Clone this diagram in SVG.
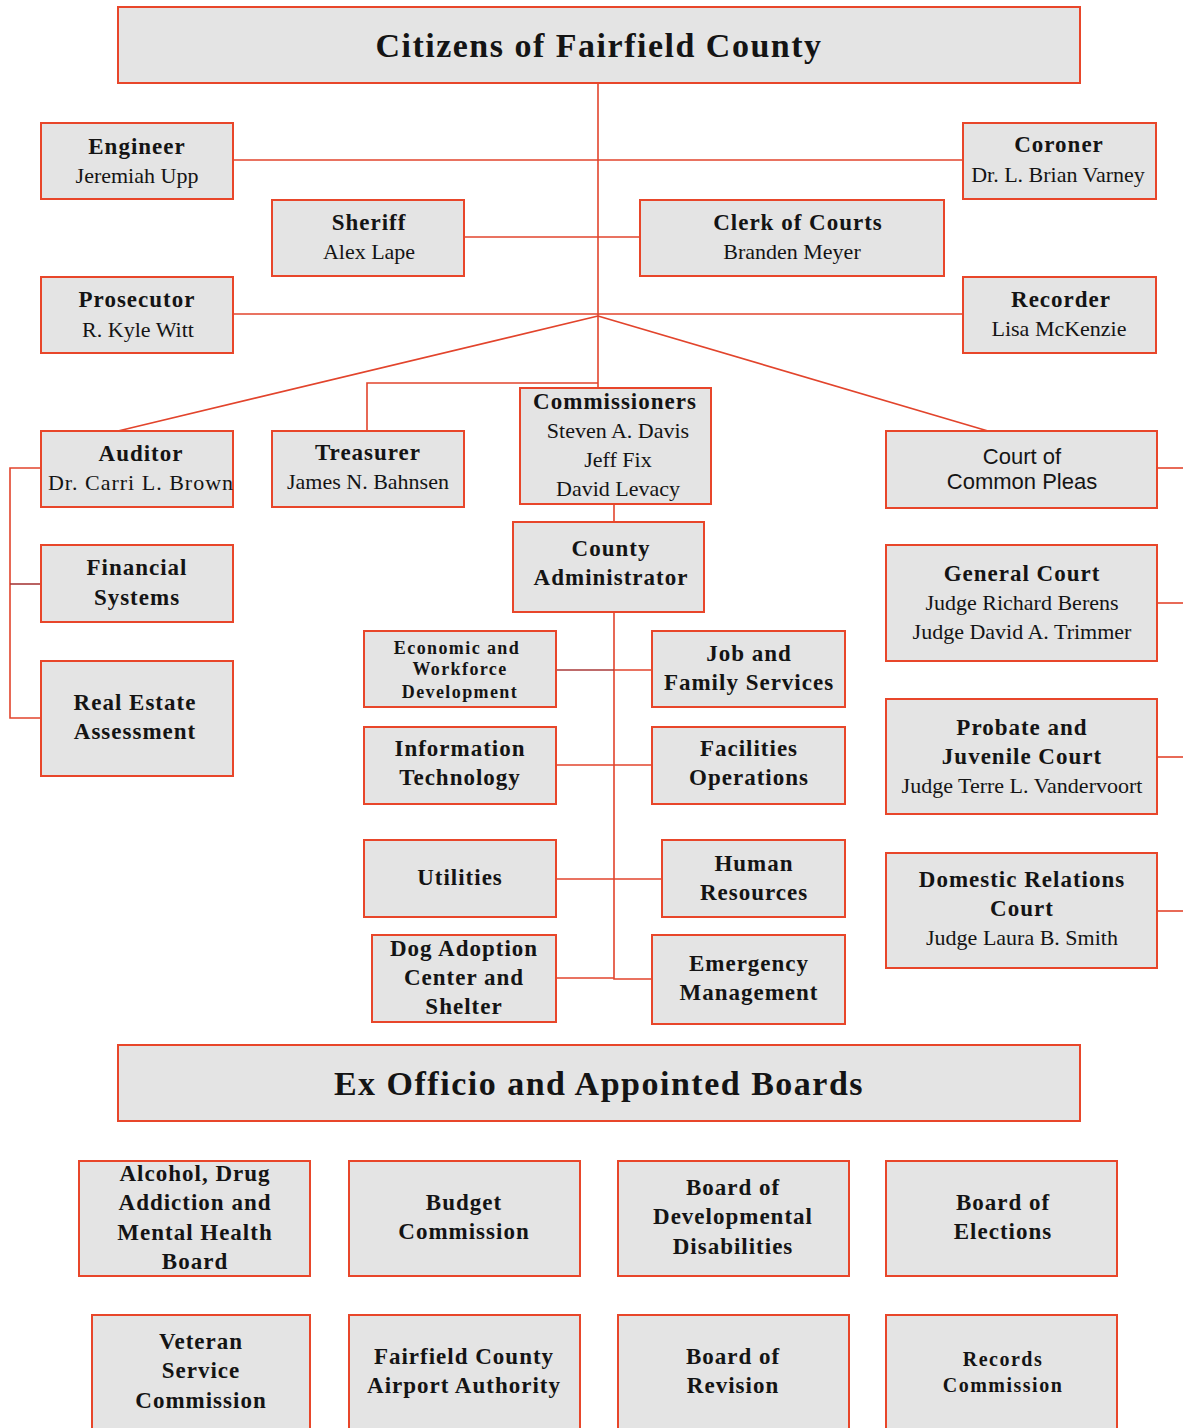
<svg xmlns="http://www.w3.org/2000/svg" width="1183" height="1428" viewBox="0 0 1183 1428">
<style>
.box{fill:#e4e4e4;stroke:#e8462a;stroke-width:2}
.ln{fill:none;stroke:#e2442c;stroke-width:1.6}
.dk{fill:none;stroke:#a83a3a;stroke-width:1.6}
text{font-family:"Liberation Serif","Times New Roman",serif;fill:#141414;text-anchor:middle}
.h{font-size:34px;font-weight:bold;letter-spacing:1.5px}
.t{font-size:23px;font-weight:bold;letter-spacing:1px}
.n{font-size:22px}
.s{font-size:18px;font-weight:bold;letter-spacing:1.4px}
.r{font-size:20px;font-weight:bold;letter-spacing:1.5px}
.sans{font-family:"Liberation Sans",Arial,sans-serif;font-size:22px}
</style>
<rect width="1183" height="1428" fill="#fff"/>
<g id="connectors">
<path class="ln" d="M598 83V388"/>
<path class="ln" d="M233 160H963"/>
<path class="ln" d="M464 237H640"/>
<path class="ln" d="M233 314H963"/>
<path class="ln" d="M598 316L118 431"/>
<path class="ln" d="M598 316L988 431"/>
<path class="ln" d="M598 383H367V431"/>
<path class="ln" d="M614 504V522"/>
<path class="ln" d="M614 612V979H652"/>
<path class="dk" d="M556 670H614"/>
<path class="ln" d="M614 670H652"/>
<path class="ln" d="M556 765H652"/>
<path class="ln" d="M556 879H662"/>
<path class="ln" d="M556 978H614"/>
<path class="ln" d="M41 468H10V718H41"/>
<path class="dk" d="M10 584H41"/>
<path class="ln" d="M1157 468H1183"/>
<path class="ln" d="M1157 603H1183"/>
<path class="ln" d="M1157 757H1183"/>
<path class="ln" d="M1157 911H1183"/>
</g>
<g id="citizens"><rect class="box" x="118" y="7" width="962" height="76"/><text class="h" x="599" y="57">Citizens of Fairfield County</text></g>
<g id="engineer"><rect class="box" x="41" y="123" width="192" height="76"/><text class="t" x="137" y="154">Engineer</text><text class="n" x="137" y="183">Jeremiah Upp</text></g>
<g id="coroner"><rect class="box" x="963" y="123" width="193" height="76"/><text class="t" x="1059" y="152">Coroner</text><text class="n" x="1058" y="182">Dr. L. Brian Varney</text></g>
<g id="sheriff"><rect class="box" x="272" y="200" width="192" height="76"/><text class="t" x="369" y="230">Sheriff</text><text class="n" x="369" y="259">Alex Lape</text></g>
<g id="clerk"><rect class="box" x="640" y="200" width="304" height="76"/><text class="t" x="798" y="230">Clerk of Courts</text><text class="n" x="792" y="259">Branden Meyer</text></g>
<g id="prosecutor"><rect class="box" x="41" y="277" width="192" height="76"/><text class="t" x="137" y="307">Prosecutor</text><text class="n" x="138" y="337">R. Kyle Witt</text></g>
<g id="recorder"><rect class="box" x="963" y="277" width="193" height="76"/><text class="t" x="1061" y="307">Recorder</text><text class="n" x="1059" y="336">Lisa McKenzie</text></g>
<g id="auditor"><rect class="box" x="41" y="431" width="192" height="76"/><text class="t" x="141" y="461">Auditor</text><text class="n" x="141" y="490" letter-spacing="1">Dr. Carri L. Brown</text></g>
<g id="treasurer"><rect class="box" x="272" y="431" width="192" height="76"/><text class="t" x="368" y="460">Treasurer</text><text class="n" x="368" y="489">James N. Bahnsen</text></g>
<g id="commissioners"><rect class="box" x="520" y="388" width="191" height="116"/><text class="t" x="615" y="409">Commissioners</text><text class="n" x="618" y="438">Steven A. Davis</text><text class="n" x="618" y="467">Jeff Fix</text><text class="n" x="618" y="496">David Levacy</text></g>
<g id="administrator"><rect class="box" x="513" y="522" width="191" height="90"/><text class="t" x="611" y="556">County</text><text class="t" x="611" y="585">Administrator</text></g>
<g id="common-pleas"><rect class="box" x="886" y="431" width="271" height="77"/><text class="sans" x="1022" y="464">Court of</text><text class="sans" x="1022" y="489">Common Pleas</text></g>
<g id="general-court"><rect class="box" x="886" y="545" width="271" height="116"/><text class="t" x="1022" y="581">General Court</text><text class="n" x="1022" y="610">Judge Richard Berens</text><text class="n" x="1022" y="639">Judge David A. Trimmer</text></g>
<g id="probate"><rect class="box" x="886" y="699" width="271" height="115"/><text class="t" x="1022" y="735">Probate and</text><text class="t" x="1022" y="764">Juvenile Court</text><text class="n" x="1022" y="793">Judge Terre L. Vandervoort</text></g>
<g id="domestic"><rect class="box" x="886" y="853" width="271" height="115"/><text class="t" x="1022" y="887">Domestic Relations</text><text class="t" x="1022" y="916">Court</text><text class="n" x="1022" y="945">Judge Laura B. Smith</text></g>
<g id="financial"><rect class="box" x="41" y="545" width="192" height="77"/><text class="t" x="137" y="575">Financial</text><text class="t" x="137" y="605">Systems</text></g>
<g id="real-estate"><rect class="box" x="41" y="661" width="192" height="115"/><text class="t" x="135" y="710">Real Estate</text><text class="t" x="135" y="739">Assessment</text></g>
<g id="economic"><rect class="box" x="364" y="631" width="192" height="76"/><text class="s" x="457" y="654">Economic and</text><text class="s" x="460" y="675">Workforce</text><text class="s" x="460" y="698">Development</text></g>
<g id="job-family"><rect class="box" x="652" y="631" width="193" height="76"/><text class="t" x="749" y="661">Job and</text><text class="t" x="749" y="690">Family Services</text></g>
<g id="info-tech"><rect class="box" x="364" y="727" width="192" height="77"/><text class="t" x="460" y="756">Information</text><text class="t" x="460" y="785">Technology</text></g>
<g id="facilities"><rect class="box" x="652" y="727" width="193" height="77"/><text class="t" x="749" y="756">Facilities</text><text class="t" x="749" y="785">Operations</text></g>
<g id="utilities"><rect class="box" x="364" y="840" width="192" height="77"/><text class="t" x="460" y="885">Utilities</text></g>
<g id="human-resources"><rect class="box" x="662" y="840" width="183" height="77"/><text class="t" x="754" y="871">Human</text><text class="t" x="754" y="900">Resources</text></g>
<g id="dog-adoption"><rect class="box" x="372" y="935" width="184" height="87"/><text class="t" x="464" y="956">Dog Adoption</text><text class="t" x="464" y="985">Center and</text><text class="t" x="464" y="1014">Shelter</text></g>
<g id="emergency"><rect class="box" x="652" y="935" width="193" height="89"/><text class="t" x="749" y="971">Emergency</text><text class="t" x="749" y="1000">Management</text></g>
<g id="ex-officio"><rect class="box" x="118" y="1045" width="962" height="76"/><text class="h" x="599" y="1095" letter-spacing="1.7">Ex Officio and Appointed Boards</text></g>
<g id="adamh"><rect class="box" x="79" y="1161" width="231" height="115"/><text class="t" x="195" y="1181">Alcohol, Drug</text><text class="t" x="195" y="1210">Addiction and</text><text class="t" x="195" y="1240">Mental Health</text><text class="t" x="195" y="1269">Board</text></g>
<g id="budget"><rect class="box" x="349" y="1161" width="231" height="115"/><text class="t" x="464" y="1210">Budget</text><text class="t" x="464" y="1239">Commission</text></g>
<g id="dev-disabilities"><rect class="box" x="618" y="1161" width="231" height="115"/><text class="t" x="733" y="1195">Board of</text><text class="t" x="733" y="1224">Developmental</text><text class="t" x="733" y="1254">Disabilities</text></g>
<g id="elections"><rect class="box" x="886" y="1161" width="231" height="115"/><text class="t" x="1003" y="1210">Board of</text><text class="t" x="1003" y="1239">Elections</text></g>
<g id="veteran"><rect class="box" x="92" y="1315" width="218" height="130"/><text class="t" x="201" y="1349">Veteran</text><text class="t" x="201" y="1378">Service</text><text class="t" x="201" y="1408">Commission</text></g>
<g id="airport"><rect class="box" x="349" y="1315" width="231" height="130"/><text class="t" x="464" y="1364">Fairfield County</text><text class="t" x="464" y="1393">Airport Authority</text></g>
<g id="revision"><rect class="box" x="618" y="1315" width="231" height="130"/><text class="t" x="733" y="1364">Board of</text><text class="t" x="733" y="1393">Revision</text></g>
<g id="records"><rect class="box" x="886" y="1315" width="231" height="130"/><text class="r" x="1003" y="1366">Records</text><text class="r" x="1003" y="1392">Commission</text></g>
</svg>
